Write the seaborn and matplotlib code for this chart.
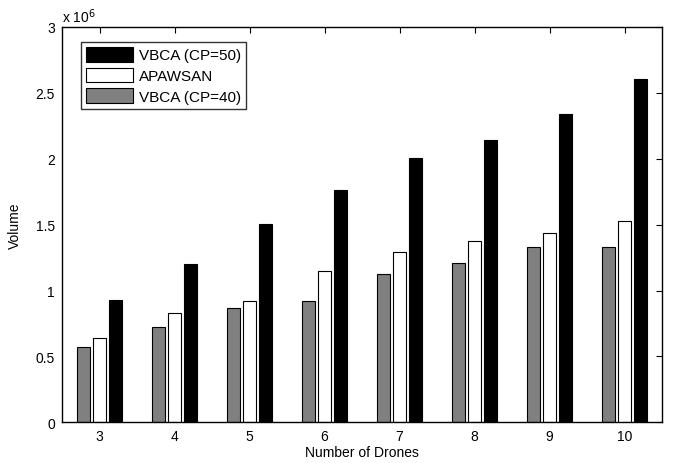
import pandas as pd
import seaborn as sns
import matplotlib.pyplot as plt

drones = [3, 4, 5, 6, 7, 8, 9, 10]
vbca_cp40 = [0.571e6, 0.720e6, 0.864e6, 0.917e6, 1.127e6, 1.208e6, 1.327e6, 1.327e6]
apawsan = [0.639e6, 0.831e6, 0.917e6, 1.149e6, 1.293e6, 1.377e6, 1.435e6, 1.526e6]
vbca_cp50 = [0.925e6, 1.200e6, 1.503e6, 1.763e6, 2.006e6, 2.140e6, 2.340e6, 2.605e6]

series = ["VBCA (CP=40)", "APAWSAN", "VBCA (CP=50)"]
colors = ["#808080", "#ffffff", "#000000"]

df = pd.DataFrame({
    "drones": drones * 3,
    "volume": vbca_cp40 + apawsan + vbca_cp50,
    "method": [s for s in series for _ in drones],
})

sns.set_style("white")
plt.rcParams["font.family"] = ["Liberation Sans", "DejaVu Sans"]
plt.rcParams["text.color"] = "black"
plt.rcParams["axes.labelcolor"] = "black"

fig = plt.figure(figsize=(6.77, 4.64), dpi=100)
ax = fig.add_axes([0.0916, 0.0877, 0.8864, 0.852])

sns.barplot(data=df, x="drones", y="volume", hue="method", hue_order=series,
            palette=colors, width=0.65, gap=0.2, edgecolor="black",
            linewidth=0.8, saturation=1, ax=ax)

ax.set_xlim(-0.5, 7.5)
ax.set_ylim(0, 3e6)
ax.set_yticks([0, 0.5e6, 1e6, 1.5e6, 2e6, 2.5e6, 3e6])
ax.set_yticklabels(["0", "0.5", "1", "1.5", "2", "2.5", "3"])
ax.text(0.0, 1.005, r"x 10$^6$", transform=ax.transAxes, fontsize=10,
        ha="left", va="bottom")
ax.set_xlabel("Number of Drones", fontsize=10, labelpad=1)
ax.set_ylabel("Volume", fontsize=10, labelpad=10)

ax.tick_params(direction="in", length=4, width=0.8, top=True, right=True,
               labelsize=10, pad=5, colors="black")
for s in ax.spines.values():
    s.set_visible(True)
    s.set_color("black")
    s.set_linewidth(1.0)

handles, labels = ax.get_legend_handles_labels()
leg = ax.legend(handles[::-1], labels[::-1], loc="upper left",
                bbox_to_anchor=(0.031, 0.963), fontsize=11, frameon=True,
                fancybox=False, edgecolor="black", handlelength=3.1,
                handleheight=1.1, labelspacing=0.33, borderpad=0.35,
                handletextpad=0.37, borderaxespad=0)
leg.get_frame().set_linewidth(1.0)

fig.savefig("out.png", dpi=100)
